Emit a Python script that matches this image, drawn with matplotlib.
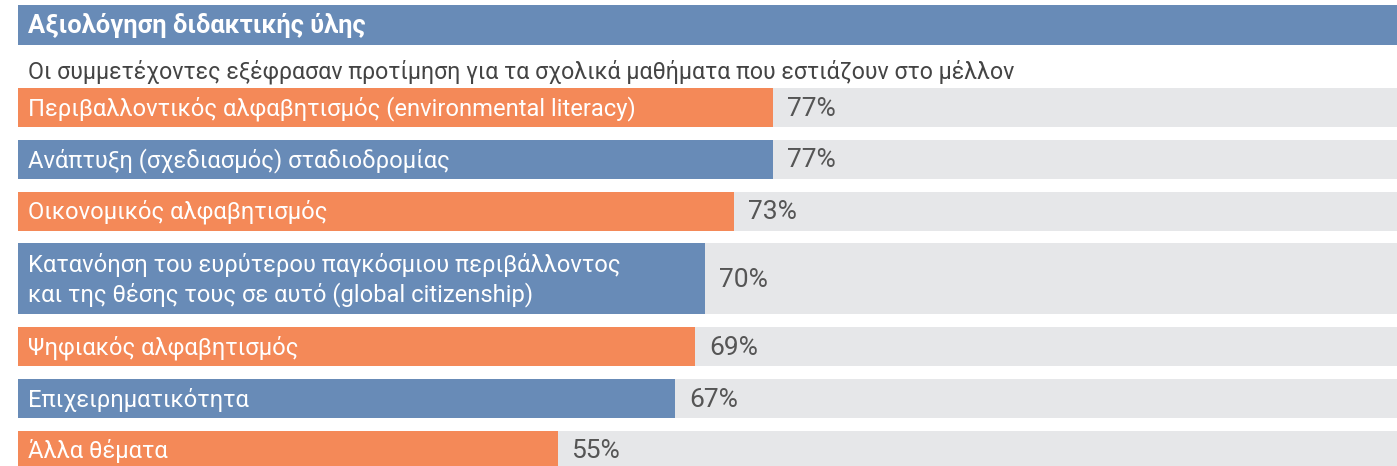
import matplotlib.pyplot as plt
from matplotlib.patches import Rectangle

plt.rcParams['font.family'] = ['Roboto', 'DejaVu Sans']

title = 'Αξιολόγηση διδακτικής ύλης'
subtitle = 'Οι συμμετέχοντες εξέφρασαν προτίμηση για τα σχολικά μαθήματα που εστιάζουν στο μέλλον'
labels = ['Περιβαλλοντικός αλφαβητισμός (environmental literacy)',
          'Ανάπτυξη (σχεδιασμός) σταδιοδρομίας',
          'Οικονομικός αλφαβητισμός',
          'Κατανόηση του ευρύτερου παγκόσμιου περιβάλλοντος\nκαι της θέσης τους σε αυτό (global citizenship)',
          'Ψηφιακός αλφαβητισμός',
          'Επιχειρηματικότητα',
          'Άλλα θέματα']
values = [77, 77, 73, 70, 69, 67, 55]

blue = '#688bb7'
orange = '#f48958'
grey = '#e6e7e9'

fig = plt.figure(figsize=(13.97, 4.66), dpi=100)
# axes in pixel-ish units vertically, percent horizontally
ax = fig.add_axes([18 / 1397, 0, 1 - 18 / 1397, 1])
xmax = (1397 - 18) / 9.81
ax.set_xlim(0, xmax)
ax.set_ylim(466, 0)
ax.axis('off')

# title bar + subtitle
ax.add_patch(Rectangle((0, 5), xmax, 40, color=blue, lw=0))
ax.text(1.0, 25, title, color='white', fontsize=18.4, fontweight='bold', va='center')
ax.text(1.0, 72, subtitle, color='#444444', fontsize=16.7, va='center')

# rows
y = 88
for i, (lab, v) in enumerate(zip(labels, values)):
    h = 71 if '\n' in lab else 39
    c = y + h / 2
    ax.barh(c, xmax, height=h, color=grey, lw=0)
    ax.barh(c, v, height=h, color=orange if i % 2 == 0 else blue, lw=0)
    ax.text(1.0, c + 1, lab, color='white', fontsize=17.1, va='center', linespacing=1.25)
    ax.annotate(f'{v}%', (v, c + 1), xytext=(10, 0), textcoords='offset points',
                color='#555555', fontsize=19, va='center')
    y += h + 12.8

fig.savefig('out.png', dpi=100)
